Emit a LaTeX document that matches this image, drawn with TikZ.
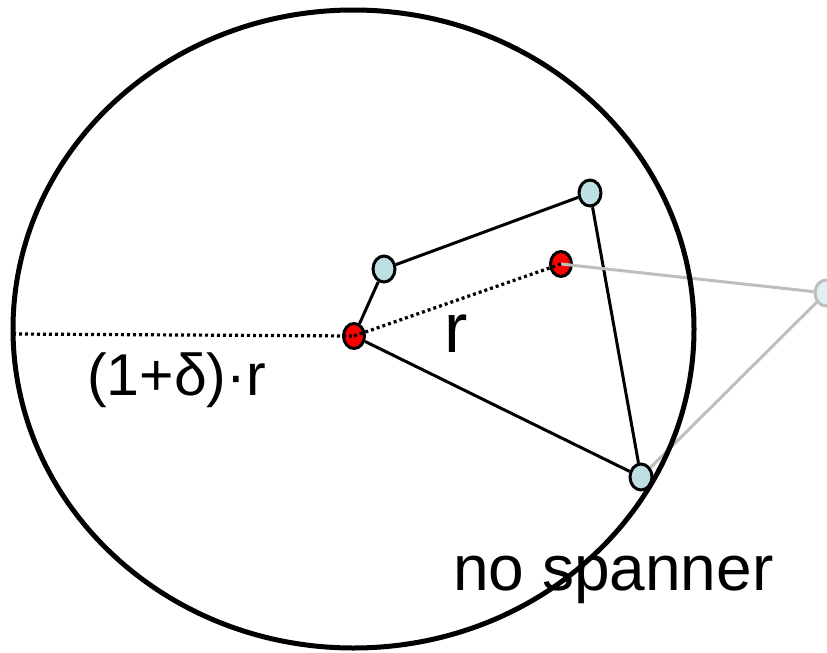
\documentclass[tikz,border=0pt]{standalone}
\usepackage{fontspec}
\setmainfont{Liberation Sans}
\usetikzlibrary{shapes.geometric}
\definecolor{lblue}{RGB}{190,223,228}
\definecolor{paleblue}{RGB}{224,240,243}
\definecolor{lgray}{RGB}{190,190,190}
\begin{document}
\begin{tikzpicture}[x=1pt,y=-1pt,
  vtx/.style={ellipse,draw=black,line width=3pt,minimum width=22pt,minimum height=26pt,inner sep=0pt},
  bluev/.style={vtx,fill=lblue},
  redv/.style={vtx,fill=red,minimum width=21pt,minimum height=25pt},
  farv/.style={vtx,fill=paleblue,draw=lgray},
  edge/.style={line width=3pt,black},
  grayedge/.style={line width=3pt,lgray},
  dots/.style={line width=3.2pt,dash pattern=on 3pt off 3pt},
  lbl/.style={anchor=base west,inner sep=0pt}]
\useasboundingbox (0,0) rectangle (827,653);
\clip (0,0) rectangle (827,653);
% vertices
\node[redv] (c) at (354,336) {};
\node[bluev] (a) at (384,269) {};
\node[bluev] (b) at (590,193) {};
\node[redv] (q) at (561,264) {};
\node[bluev] (d) at (641,477) {};
\node[farv] (e) at (826,293) {};
\coordinate (w) at (13,334);
% edges
\draw[edge] (a) -- (b);
\draw[edge] (a) -- (c);
\draw[edge] (c) -- (d);
\draw[edge] (b) -- (d);
\draw[grayedge] (q.center) -- (e);
\draw[grayedge] (e) -- (d);
\draw[dots] (w) -- (c.center);
\draw[dots] (c.center) -- (q.center);
% big circle
\draw[line width=5pt] (353.5,329) ellipse [x radius=340.5, y radius=319];
% labels
\node[lbl,font=\fontsize{59}{62}\selectfont] (t1) at (87,395) {(1+δ)·r};
\node[lbl,font=\fontsize{70}{74}\selectfont] (t2) at (444,352) {r};
\node[lbl,font=\fontsize{64}{67}\selectfont] (t3) at (453,590) {no spanner};
\end{tikzpicture}
\end{document}
